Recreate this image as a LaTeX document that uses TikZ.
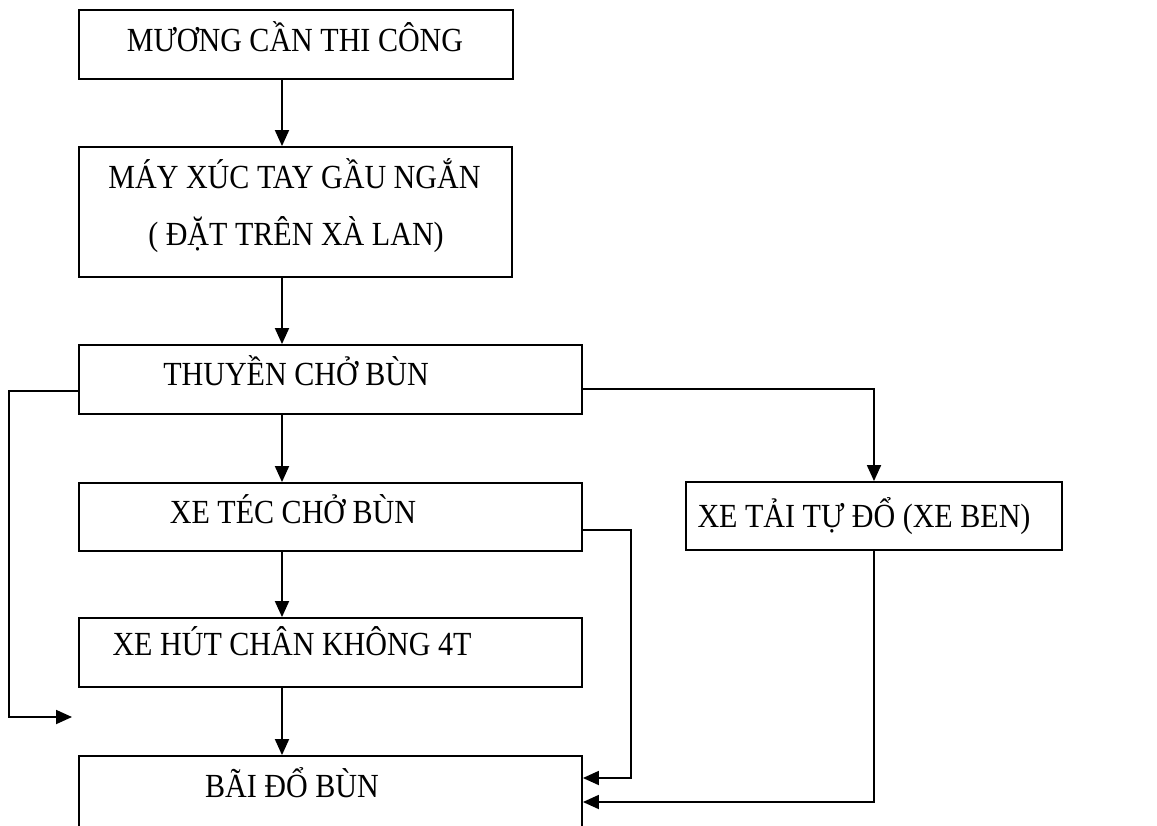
\documentclass[tikz,border=0pt]{standalone}
\usepackage{fontspec}
\setmainfont{Liberation Serif}
\usetikzlibrary{arrows.meta,calc}
\newcommand\boxtxt[1]{\scalebox{0.98}[1.1]{#1}}
\begin{document}
\begin{tikzpicture}[x=0.75pt,y=-0.75pt,
  box/.style={draw,line width=1.4pt,rectangle,inner sep=0pt},
  txt/.style={anchor=base,inner sep=0pt,font=\fontsize{23}{28}\selectfont},
  conn/.style={line width=1.4pt},
  arr/.style={conn,-{Triangle[length=12pt,width=10.5pt]}}]
\useasboundingbox (0,0) rectangle (1157,825);
% boxes
\node[box,minimum width=434*0.75pt,minimum height=69*0.75pt] (b1) at (296,44.5) {};
\node[box,minimum width=433*0.75pt,minimum height=130*0.75pt] (b2) at (295.5,212) {};
\node[box,minimum width=503*0.75pt,minimum height=69*0.75pt] (b3) at (330.5,379.5) {};
\node[box,minimum width=503*0.75pt,minimum height=68*0.75pt] (b4) at (330.5,517) {};
\node[box,minimum width=376*0.75pt,minimum height=68*0.75pt] (b5) at (874,516) {};
\node[box,minimum width=503*0.75pt,minimum height=69*0.75pt] (b6) at (330.5,652.5) {};
\node[box,minimum width=503*0.75pt,minimum height=74*0.75pt] (b7) at (330.5,793) {};
% texts
\node[txt] (t1) at (295,51) {\boxtxt{MƯƠNG CẦN THI CÔNG}};
\node[txt] (t2a) at (294.5,188) {\boxtxt{MÁY XÚC TAY GẦU NGẮN}};
\node[txt] (t2b) at (296,245) {\boxtxt{( ĐẶT TRÊN XÀ LAN)}};
\node[txt] (t3) at (296,385) {\boxtxt{THUYỀN CHỞ BÙN}};
\node[txt] (t4) at (293,523) {\boxtxt{XE TÉC CHỞ BÙN}};
\node[txt] (t5) at (864,527) {\boxtxt{XE TẢI TỰ ĐỔ (XE BEN)}};
\node[txt] (t6) at (292,655) {\boxtxt{XE HÚT CHÂN KHÔNG 4T}};
\node[txt] (t7) at (292,797) {\boxtxt{BÃI ĐỔ BÙN}};
% arrow column
\coordinate (ax) at (282,0);
\coordinate (lend) at (72,717);
\draw[arr] (b1.south -| ax) -- (b2.north -| ax);
\draw[arr] (b2.south -| ax) -- (b3.north -| ax);
\draw[arr] (b3.south -| ax) -- (b4.north -| ax);
\draw[arr] (b4.south -| ax) -- (b6.north -| ax);
\draw[arr] (b6.south -| ax) -- (b7.north -| ax);
% side connectors
\draw[arr] ($(b3.west)+(0,11.5)$) -- ++(-69,0) |- (lend);
\draw[arr] ($(b3.east)+(0,9.5)$) -| (b5.north);
\draw[arr] ($(b4.east)+(0,13)$) -- ++(48,0) |- ($(b7.east)+(0,-15)$);
\draw[arr] (b5.south) |- ($(b7.east)+(0,9)$);
\end{tikzpicture}
\end{document}
